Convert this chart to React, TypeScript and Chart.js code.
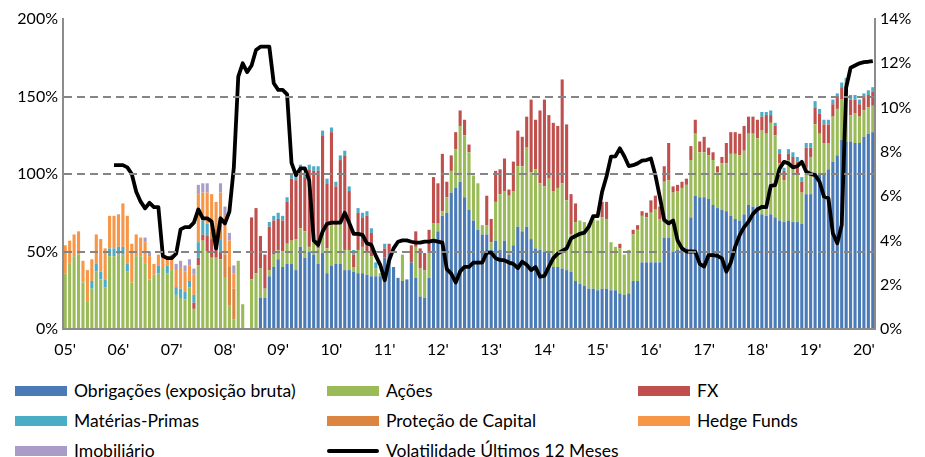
import React, { useEffect, useRef } from "react";
import { Chart, registerables } from "chart.js";

Chart.register(...registerables);

// ---- categories & tick labels ----
const yearTicks = ["05'", "06'", "07'", "08'", "09'", "10'", "11'", "12'", "13'", "14'", "15'", "16'", "17'", "18'", "19'", "20'"];
const firstYear = 2005;
const monthCount = 183; // Jan 2005 .. Mar 2020
const categories: string[] = [];
for (let i = 0; i < monthCount; i++) {
  categories.push(`${firstYear + Math.floor(i / 12)}-${String((i % 12) + 1).padStart(2, "0")}`);
}

// ---- series (% of portfolio) ----
const obrigacoes = [
  0, 0, 0, 0, 0, 0, 0, 0, 0, 0, 0, 0,
  0, 0, 0, 0, 0, 0, 0, 0, 0, 0, 0, 0,
  0, 0, 0, 0, 0, 0, 0, 0, 0, 0, 0, 0,
  0, 0, 0, 0, 0, 0, 0, 0, 20, 20, 34, 40,
  45, 40, 42, 42, 38, 53, 46, 50, 48, 42, 49, 36,
  41, 42, 42, 38, 38, 37, 36, 36, 35, 34, 34, 34,
  46, 49, 40, 33, 31, 32, 43, 33, 21, 20, 33, 58,
  63, 73, 75, 88, 91, 95, 85, 77, 70, 64, 61, 61,
  51, 57, 51, 57, 48, 54, 66, 63, 66, 58, 52, 51,
  50, 49, 40, 40, 39, 38, 37, 31, 29, 28, 26, 26,
  25, 26, 26, 25, 25, 23, 22, 23, 31, 31, 43, 43,
  43, 43, 43, 59, 59, 50, 51, 51, 52, 72, 86, 85,
  85, 84, 80, 78, 77, 76, 73, 71, 70, 74, 80, 79,
  79, 74, 73, 74, 72, 70, 69, 70, 69, 69, 68, 87,
  87, 101, 100, 100, 103, 108, 112, 122, 121, 121, 120, 120,
  124, 126, 127,
];

const acoes = [
  36, 42, 47, 48, 30, 18, 26, 37, 32, 27, 47, 47,
  48, 48, 37, 30, 47, 47, 42, 32, 35, 36, 40, 36,
  38, 22, 20, 19, 27, 13, 41, 57, 50, 46, 46, 45,
  33, 15, 6, 44, 16, 0, 32, 36, 19, 6, 4, 8,
  6, 10, 13, 15, 20, 12, 17, 3, 8, 10, 14, 16,
  26, 25, 26, 13, 13, 3, 15, 17, 14, 13, 5, 2,
  0, 0, 0, 0, 17, 0, 0, 20, 18, 18, 16, 10,
  5, 3, 10, 14, 25, 36, 40, 37, 29, 30, 6, 6,
  5, 25, 36, 32, 38, 35, 39, 42, 51, 43, 51, 43,
  42, 48, 49, 51, 55, 45, 24, 38, 41, 41, 42, 47,
  45, 46, 45, 31, 28, 29, 26, 28, 30, 33, 30, 29,
  32, 34, 28, 36, 37, 38, 38, 40, 41, 37, 40, 29,
  29, 28, 29, 23, 30, 31, 40, 42, 42, 41, 46, 47,
  44, 54, 53, 59, 53, 37, 27, 39, 36, 31, 20, 17,
  24, 31, 26, 20, 17, 29, 30, 26, 26, 17, 19, 17,
  17, 17, 17,
];

const fx = [
  0, 0, 0, 0, 0, 0, 0, 0, 0, 0, 0, 0,
  0, 0, 0, 0, 0, 0, 0, 0, 0, 0, 0, 0,
  0, 0, 0, 0, 0, 4, 5, 4, 10, 12, 8, 5,
  0, 0, 0, 0, 0, 0, 40, 42, 21, 22, 28, 22,
  20, 20, 27, 40, 38, 38, 35, 50, 46, 50, 62, 42,
  60, 25, 41, 61, 38, 8, 24, 19, 24, 15, 0, 0,
  6, 6, 0, 0, 0, 0, 11, 10, 13, 11, 15, 30,
  26, 37, 10, 10, 11, 10, 10, 5, 0, 0, 0, 19,
  15, 20, 16, 21, 4, 19, 23, 19, 20, 47, 32, 47,
  56, 41, 44, 40, 67, 49, 26, 12, 0, 0, 0, 0,
  0, 10, 11, 0, 0, 3, 0, 0, 3, 3, 3, 3,
  8, 9, 8, 10, 24, 4, 4, 4, 4, 9, 9, 7,
  10, 5, 5, 4, 4, 13, 14, 14, 14, 16, 11, 11,
  12, 9, 12, 5, 6, 6, 6, 4, 6, 8, 7, 13,
  6, 11, 13, 12, 12, 8, 7, 8, 12, 10, 9, 8,
  8, 8, 9,
];

const materiasPrimas = [
  0, 0, 0, 0, 0, 0, 5, 5, 5, 5, 5, 5,
  5, 5, 5, 0, 0, 0, 0, 0, 0, 5, 0, 5,
  0, 5, 6, 5, 4, 5, 10, 9, 8, 0, 5, 8,
  0, 0, 0, 0, 0, 0, 0, 0, 0, 0, 3, 3,
  4, 3, 3, 3, 3, 3, 3, 3, 3, 3, 3, 3,
  3, 3, 3, 3, 3, 3, 3, 3, 3, 3, 4, 0,
  3, 0, 0, 0, 0, 0, 0, 0, 0, 0, 0, 0,
  0, 0, 0, 0, 0, 0, 0, 0, 0, 0, 0, 0,
  0, 0, 0, 0, 0, 0, 0, 0, 0, 0, 0, 0,
  0, 0, 0, 0, 0, 0, 0, 0, 0, 0, 0, 0,
  0, 0, 0, 0, 0, 0, 0, 0, 0, 0, 0, 0,
  0, 0, 0, 0, 0, 0, 0, 0, 0, 0, 0, 0,
  0, 0, 0, 0, 0, 0, 0, 0, 0, 0, 0, 0,
  0, 3, 2, 3, 2, 3, 2, 3, 3, 3, 3, 3,
  3, 4, 3, 3, 3, 3, 3, 3, 3, 3, 3, 3,
  3, 3, 3,
];

const protecaoCapital = [
  0, 0, 0, 0, 0, 0, 0, 0, 0, 0, 0, 0,
  0, 0, 0, 0, 0, 0, 0, 0, 0, 0, 0, 0,
  0, 0, 0, 0, 0, 0, 0, 0, 0, 5, 6, 10,
  15, 25, 20, 0, 0, 0, 0, 0, 0, 0, 0, 0,
  0, 0, 0, 0, 0, 0, 0, 0, 0, 0, 0, 0,
  0, 0, 0, 0, 0, 0, 0, 0, 0, 0, 0, 0,
  0, 0, 0, 0, 0, 0, 0, 0, 0, 0, 0, 0,
  0, 0, 0, 0, 0, 0, 0, 0, 0, 0, 0, 0,
  0, 0, 0, 0, 0, 0, 0, 0, 0, 0, 0, 0,
  0, 0, 0, 0, 0, 0, 0, 0, 0, 0, 0, 0,
  0, 0, 0, 0, 0, 0, 0, 0, 0, 0, 0, 0,
  0, 0, 0, 0, 0, 0, 0, 0, 0, 0, 0, 0,
  0, 0, 0, 0, 0, 0, 0, 0, 0, 0, 0, 0,
  0, 0, 0, 0, 0, 0, 0, 0, 0, 0, 0, 0,
  0, 0, 0, 0, 0, 0, 0, 0, 0, 0, 0, 0,
  0, 0, 0,
];

const hedgeFunds = [
  18, 15, 14, 15, 14, 20, 14, 19, 21, 20, 21, 21,
  21, 28, 31, 25, 14, 12, 14, 15, 7, 7, 7, 6,
  7, 11, 14, 13, 10, 13, 31, 18, 20, 24, 17, 20,
  25, 17, 10, 0, 0, 0, 0, 0, 0, 0, 0, 0,
  0, 0, 0, 0, 0, 0, 0, 0, 0, 0, 0, 0,
  0, 0, 0, 0, 0, 0, 0, 0, 0, 0, 0, 0,
  0, 0, 0, 0, 0, 0, 0, 0, 0, 0, 0, 0,
  0, 0, 0, 0, 0, 0, 0, 0, 0, 0, 0, 0,
  0, 0, 0, 0, 0, 0, 0, 0, 0, 0, 0, 0,
  0, 0, 0, 0, 0, 0, 0, 0, 0, 0, 0, 0,
  0, 0, 0, 0, 0, 0, 0, 0, 0, 0, 0, 0,
  0, 0, 0, 0, 0, 0, 0, 0, 0, 0, 0, 0,
  0, 0, 0, 0, 0, 0, 0, 0, 0, 0, 0, 0,
  0, 0, 0, 0, 0, 0, 0, 0, 0, 0, 0, 0,
  0, 0, 0, 0, 0, 0, 0, 0, 0, 0, 0, 0,
  0, 0, 0,
];

const imobiliario = [
  0, 0, 0, 0, 0, 0, 0, 0, 0, 0, 0, 0,
  0, 0, 0, 0, 0, 0, 3, 3, 0, 0, 0, 0,
  3, 4, 4, 4, 4, 4, 6, 6, 6, 0, 0, 6,
  6, 5, 5, 0, 0, 0, 0, 0, 0, 0, 0, 0,
  0, 0, 0, 0, 0, 0, 0, 0, 0, 0, 0, 0,
  0, 0, 0, 0, 0, 0, 0, 0, 0, 0, 0, 0,
  0, 0, 0, 0, 0, 0, 0, 0, 0, 0, 0, 0,
  0, 0, 0, 0, 0, 0, 0, 0, 0, 0, 0, 0,
  0, 0, 0, 0, 0, 0, 0, 0, 0, 0, 0, 0,
  0, 0, 0, 0, 0, 0, 0, 0, 0, 0, 0, 0,
  0, 0, 0, 0, 0, 0, 0, 0, 0, 0, 0, 0,
  0, 0, 0, 0, 0, 0, 0, 0, 0, 0, 0, 0,
  0, 0, 0, 0, 0, 0, 0, 0, 0, 0, 0, 0,
  0, 0, 0, 0, 0, 0, 0, 0, 0, 0, 0, 0,
  0, 0, 0, 0, 0, 0, 0, 0, 0, 0, 0, 0,
  0, 0, 0,
];

// right axis (%)
const volatilidade = [
  null, null, null, null, null, null, null, null, null, null, null, 7.4,
  7.4, 7.4, 7.3, 7.0, 6.2, 5.75, 5.45, 5.7, 5.5, 5.5, 3.3, 3.2,
  3.2, 3.4, 4.5, 4.6, 4.6, 4.8, 5.4, 5.0, 5.0, 4.85, 3.64, 5.0,
  4.77, 5.3, 7.3, 11.4, 12.0, 11.6, 11.9, 12.6, 12.75, 12.75, 12.75, 11.1,
  10.8, 10.8, 10.6, 7.5, 6.95, 7.25, 7.25, 6.7, 4.0, 3.8, 4.4, 4.75,
  4.8, 4.8, 4.8, 5.25, 4.8, 4.3, 4.3, 4.25, 3.87, 3.8, 3.3, 2.9,
  2.2, 3.1, 3.64, 3.94, 4.0, 4.0, 3.94, 3.9, 3.9, 3.95, 3.95, 3.99,
  3.95, 3.9, 2.7, 2.5, 2.1, 2.6, 2.81, 2.81, 3.0, 3.0, 3.0, 3.45,
  3.45, 3.2, 3.12, 3.1, 3.0, 2.94, 2.75, 3.04, 2.9, 2.66, 2.8, 2.36,
  2.4, 2.81, 3.2, 3.4, 3.53, 3.64, 4.09, 4.2, 4.3, 4.35, 4.62, 5.1,
  5.1, 6.2, 6.9, 7.78, 7.8, 8.16, 7.8, 7.36, 7.4, 7.48, 7.6, 7.63,
  7.7, 6.95, 5.97, 4.92, 4.77, 4.9, 4.0, 3.64, 3.5, 3.5, 3.49, 2.94,
  2.82, 3.34, 3.34, 3.3, 3.19, 2.59, 3.0, 3.72, 4.24, 4.6, 4.85, 5.2,
  5.4, 5.52, 5.5, 6.46, 6.5, 7.25, 7.55, 7.48, 7.3, 7.35, 7.55, 7.1,
  7.0, 6.95, 6.65, 5.98, 5.9, 4.32, 3.87, 4.7, 10.9, 11.8, 11.9, 12.0,
  12.05, 12.07, 12.1,
];

const seriesNames = [
  "Obrigações (exposição bruta)",
  "Ações",
  "FX",
  "Matérias-Primas",
  "Proteção de Capital",
  "Hedge Funds",
  "Imobiliário",
  "Volatilidade Últimos 12 Meses",
];

const COLORS = ["#4A7BB7", "#9BBB59", "#C0504D", "#4BACC6", "#DB8540", "#F79646", "#A99CC8", "#000000"];
const FONT = "Lato, 'Open Sans', sans-serif";

export default function App() {
  const ref = useRef<HTMLCanvasElement | null>(null);

  useEffect(() => {
    if (!ref.current) return;
    const barSeries = [obrigacoes, acoes, fx, materiasPrimas, protecaoCapital, hedgeFunds, imobiliario];
    const datasets: any[] = barSeries.map((d, k) => ({
      type: "bar",
      label: seriesNames[k],
      data: d,
      backgroundColor: COLORS[k],
      borderWidth: 0,
      barPercentage: 0.7,
      categoryPercentage: 1,
      yAxisID: "y",
      order: 1,
    }));
    datasets.push({
      type: "line",
      label: seriesNames[7],
      data: volatilidade,
      borderColor: "#000",
      borderWidth: 3.8,
      pointRadius: 0,
      tension: 0,
      borderJoinStyle: "round",
      yAxisID: "y1",
      order: 0,
    });

    const tickFont = { family: FONT, size: 16 };
    const chart = new Chart(ref.current, {
      type: "bar",
      data: { labels: categories, datasets },
      options: {
        animation: false,
        responsive: false,
        layout: { padding: { top: 19, left: 0, right: 0, bottom: 0 } },
        plugins: { legend: { display: false }, tooltip: { enabled: false } },
        scales: {
          x: {
            stacked: true,
            offset: true,
            grid: { display: false, drawTicks: false },
            border: { display: true, color: "#8C8C8C", width: 2, z: 1 },
            ticks: {
              autoSkip: false,
              maxRotation: 0,
              minRotation: 0,
              padding: 11,
              color: "#000",
              font: tickFont,
              callback: (_v: any, idx: number) => (idx % 12 === 0 ? yearTicks[idx / 12] : ""),
            },
            afterFit: (s: any) => {
              s.height = 41;
            },
          },
          y: {
            stacked: true,
            min: 0,
            max: 200,
            ticks: { stepSize: 50, padding: 5, color: "#000", font: tickFont, callback: (v: any) => v + "%" },
            grid: {
              drawTicks: false,
              lineWidth: 2,
              z: 1,
              color: (c: any) => (c.tick && (c.tick.value === 0 || c.tick.value === 200) ? "rgba(0,0,0,0)" : "#858585"),
            },
            border: { display: true, color: "#8C8C8C", width: 2, dash: [8, 5], z: 1 },
            afterFit: (s: any) => {
              s.width = 63;
            },
          },
          y1: {
            position: "right",
            min: 0,
            max: 14,
            ticks: { stepSize: 2, padding: 5, color: "#000", font: tickFont, callback: (v: any) => v + "%" },
            grid: { drawOnChartArea: false, drawTicks: false, z: 1 },
            border: { display: true, color: "#8C8C8C", width: 2, z: 1 },
            afterFit: (s: any) => {
              s.width = 50;
            },
          },
        },
      } as any,
    });
    return () => chart.destroy();
  }, []);

  const colX = [15, 327, 638];
  const rowY = [391, 421, 451];

  return (
    <div style={{ position: "absolute", left: 0, top: 0, width: 925, height: 457, background: "#fff", fontFamily: FONT }}>
      <canvas ref={ref} width={925} height={370} style={{ position: "absolute", left: 0, top: 0, width: 925, height: 370 }} />
      {seriesNames.map((name, k) => {
        const cx = colX[k % 3];
        const cy = rowY[Math.floor(k / 3)];
        const isLine = k === 7;
        return (
          <React.Fragment key={name}>
            <div
              style={{
                position: "absolute",
                left: cx,
                top: isLine ? cy - 2 : cy - 5,
                width: 52,
                height: isLine ? 4 : 10,
                background: COLORS[k],
                borderRadius: isLine ? 2 : 0,
              }}
            />
            <div
              style={{
                position: "absolute",
                left: cx + 59,
                top: cy - 12,
                height: 24,
                lineHeight: "24px",
                fontSize: 17.5,
                color: "#000",
                whiteSpace: "nowrap",
              }}
            >
              {name}
            </div>
          </React.Fragment>
        );
      })}
    </div>
  );
}
